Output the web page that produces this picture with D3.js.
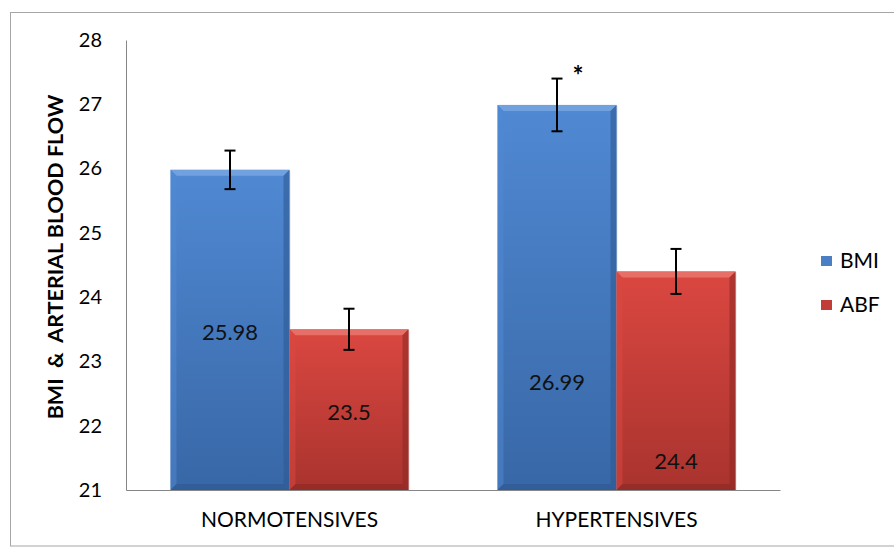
<!DOCTYPE html>
<html><head><meta charset="utf-8">
<script src="https://cdn.jsdelivr.net/npm/d3@7"></script>
<style>body{margin:0;background:#fff}svg{display:block}</style>
</head><body>
<script>
const categories = ["NORMOTENSIVES", "HYPERTENSIVES"];
const seriesNames = ["BMI", "ABF"];
const bmiValues = [25.98, 26.99];
const abfValues = [23.5, 24.4];
const bmiErrors = [0.3, 0.41];
const abfErrors = [0.32, 0.35];
const bmiLabels = ["25.98", "26.99"];
const abfLabels = ["23.5", "24.4"];
const bmiLabelAt = [23.46, 22.68];
const abfLabelAt = [22.21, 21.44];
const yTicks = [21, 22, 23, 24, 25, 26, 27, 28];
const significance = ["", "*"];

(function () {
const W = 894, H = 548;
const font = "Lato, 'Open Sans', sans-serif";
const svg = d3.select("body").append("svg").attr("width", W).attr("height", H);
const defs = svg.append("defs");
const palettes = {
  BMI: {top: "#5089d3", bot: "#3867a6", light: "#78a6e2", dark: "#2f5a94", legend: "#4a7fc4"},
  ABF: {top: "#db4741", bot: "#a9332e", light: "#ea7570", dark: "#8f2925", legend: "#c33d38"}
};
seriesNames.forEach(s => {
  const g = defs.append("linearGradient").attr("id", "g" + s).attr("x1", 0).attr("x2", 0).attr("y1", 0).attr("y2", 1);
  g.append("stop").attr("offset", "0%").attr("stop-color", palettes[s].top);
  g.append("stop").attr("offset", "100%").attr("stop-color", palettes[s].bot);
});

svg.append("rect").attr("x", 10.5).attr("y", 12.5).attr("width", 900).attr("height", 533.5)
  .attr("fill", "none").attr("stroke", "#a6a6a6").attr("stroke-width", 1);

const pl = 126, pr = 780, pt = 40, pb = 490;
const y = d3.scaleLinear().domain([21, 28]).range([pb, pt]);
const x0 = d3.scaleBand().domain(categories).range([pl, pr]).paddingInner(0).paddingOuter(0);
const groupW = x0.bandwidth() * 238 / 327;
const x1 = d3.scaleBand().domain(seriesNames).range([0, groupW]).padding(0);

const yAxis = d3.axisLeft(y).tickValues(yTicks).tickSize(0).tickPadding(24).tickFormat(d3.format("d"));
const gy = svg.append("g").attr("transform", `translate(${pl},0)`).call(yAxis);
gy.select(".domain").attr("stroke", "#868686");
gy.selectAll("text").attr("font-family", font).attr("font-size", 20).attr("fill", "#000");

svg.append("text").attr("transform", `translate(63,257) rotate(-90)`)
  .attr("text-anchor", "middle").attr("font-family", font).attr("font-weight", "bold")
  .attr("font-size", 21.5).attr("fill", "#000").attr("xml:space", "preserve")
  .text("BMI  &  ARTERIAL BLOOD FLOW");

const data = [];
categories.forEach((c, i) => {
  data.push({cat: c, s: "BMI", v: bmiValues[i], e: bmiErrors[i], lab: bmiLabels[i], la: bmiLabelAt[i], sig: significance[i]});
  data.push({cat: c, s: "ABF", v: abfValues[i], e: abfErrors[i], lab: abfLabels[i], la: abfLabelAt[i], sig: ""});
});

const bars = svg.append("g");
data.forEach(d => {
  const bx = x0(d.cat) + (x0.bandwidth() - groupW) / 2 + x1(d.s);
  const bw = x1.bandwidth();
  const by = y(d.v), bh = y(21) - y(d.v);
  const p = palettes[d.s];
  const g = bars.append("g");
  g.append("rect").attr("x", bx + 1).attr("y", by + 1).attr("width", bw).attr("height", bh)
    .attr("fill", "#000").attr("opacity", 0.12);
  g.append("rect").attr("x", bx).attr("y", by).attr("width", bw).attr("height", bh).attr("fill", `url(#g${d.s})`);
  const b = 6;
  g.append("path").attr("d", `M${bx},${by}L${bx + bw},${by}L${bx + bw - b},${by + b}L${bx + b},${by + b}Z`)
    .attr("fill", p.light).attr("opacity", 0.85);
  g.append("path").attr("d", `M${bx},${by}L${bx + b},${by + b}L${bx + b},${by + bh - b}L${bx},${by + bh}Z`)
    .attr("fill", p.top).attr("opacity", 0.5);
  g.append("path").attr("d", `M${bx + bw},${by}L${bx + bw - b},${by + b}L${bx + bw - b},${by + bh - b}L${bx + bw},${by + bh}Z`)
    .attr("fill", p.dark).attr("opacity", 0.6);
  g.append("path").attr("d", `M${bx},${by + bh}L${bx + b},${by + bh - b}L${bx + bw - b},${by + bh - b}L${bx + bw},${by + bh}Z`)
    .attr("fill", p.dark).attr("opacity", 0.7);
  g.append("text").attr("x", bx + bw / 2).attr("y", y(d.la)).attr("dy", "0.35em")
    .attr("text-anchor", "middle").attr("font-family", font).attr("font-size", 22).attr("fill", "#111")
    .text(d.lab);
  const cx = bx + bw / 2;
  const eb = g.append("g").attr("stroke", "#000").attr("stroke-width", 2);
  eb.append("line").attr("x1", cx).attr("x2", cx).attr("y1", y(d.v + d.e)).attr("y2", y(d.v - d.e));
  eb.append("line").attr("x1", cx - 5.5).attr("x2", cx + 5.5).attr("y1", y(d.v + d.e)).attr("y2", y(d.v + d.e));
  eb.append("line").attr("x1", cx - 5.5).attr("x2", cx + 5.5).attr("y1", y(d.v - d.e)).attr("y2", y(d.v - d.e));
  if (d.sig) {
    g.append("text").attr("x", cx + 21).attr("y", y(d.v + d.e) + 6).attr("text-anchor", "middle")
      .attr("font-family", font).attr("font-weight", "bold").attr("font-size", 26).attr("fill", "#000").text(d.sig);
  }
});

const xAxis = d3.axisBottom(x0).tickSize(0).tickPadding(22);
const gx = svg.append("g").attr("transform", `translate(0,${pb})`).call(xAxis);
gx.select(".domain").attr("stroke", "#868686");
gx.selectAll("text").attr("font-family", font).attr("font-size", 21).attr("fill", "#000");

const legend = svg.append("g");
seriesNames.forEach((s, i) => {
  const ly = 261 + i * 44;
  legend.append("rect").attr("x", 821).attr("y", ly - 5).attr("width", 11).attr("height", 10)
    .attr("fill", palettes[s].legend);
  legend.append("text").attr("x", 840).attr("y", ly).attr("dy", "0.35em").attr("font-family", font)
    .attr("font-size", 21).attr("fill", "#000").text(s);
});
})();
</script>
</body></html>
